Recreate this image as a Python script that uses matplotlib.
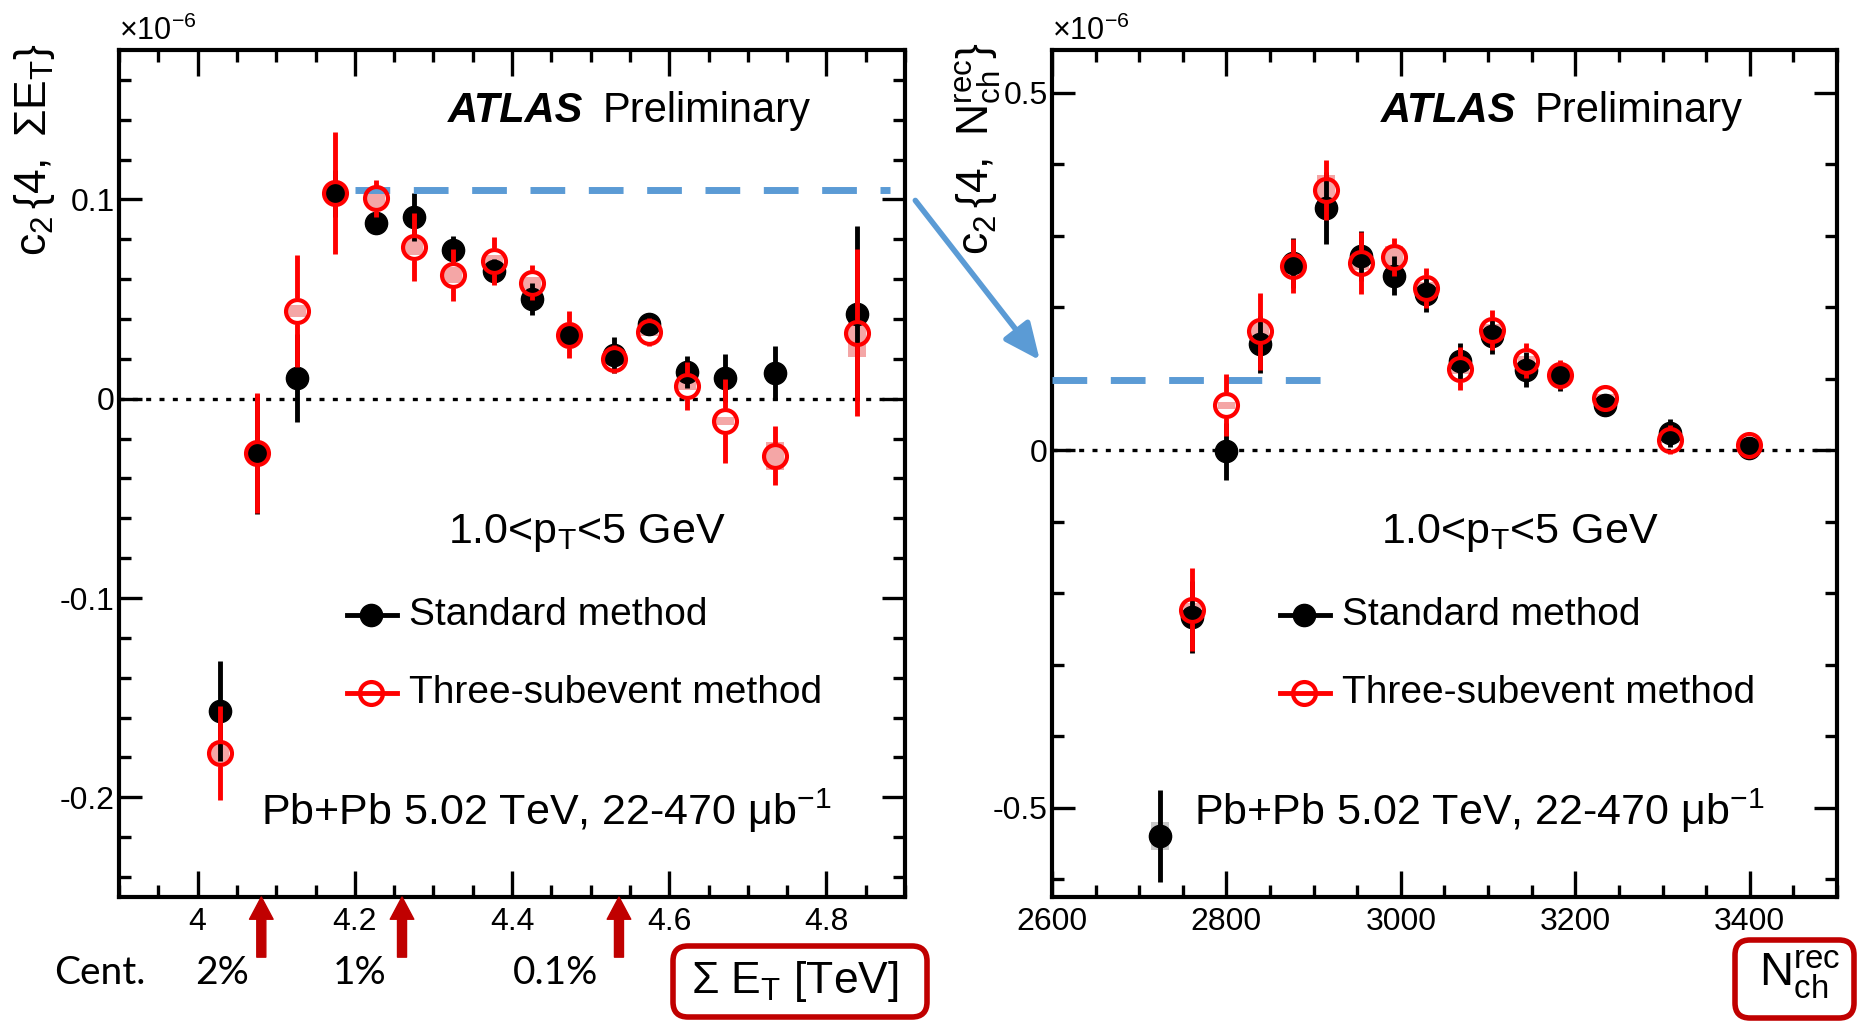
import numpy as np
import matplotlib
matplotlib.use('Agg')
import matplotlib.pyplot as plt
from matplotlib.patches import FancyBboxPatch, ConnectionPatch, Rectangle
from matplotlib.ticker import MultipleLocator, FuncFormatter

plt.rcParams['font.family'] = 'Liberation Sans'
plt.rcParams['mathtext.fontset'] = 'custom'
plt.rcParams['mathtext.rm'] = 'Liberation Sans'
plt.rcParams['mathtext.it'] = 'Liberation Sans:italic'
plt.rcParams['mathtext.bf'] = 'Liberation Sans:bold'
plt.rcParams['axes.unicode_minus'] = False

# ---- left panel: c2{4} vs sum ET (TeV), values in units of 1e-6
et_x = np.array([4.029, 4.0755, 4.126, 4.175, 4.2264, 4.2755, 4.3245, 4.3766,
                 4.425, 4.473, 4.53, 4.5736, 4.622, 4.671, 4.735, 4.839])
et_std = np.array([-0.1566, -0.0276, 0.0104, 0.103, 0.0883, 0.091, 0.0745, 0.0641,
                   0.0499, 0.0318, 0.0218, 0.0377, 0.0134, 0.0106, 0.0131, 0.0427])
et_std_err = np.array([0.025, 0.03, 0.022, 0.012, 0.005, 0.012, 0.007, 0.006,
                       0.008, 0.006, 0.009, 0.005, 0.008, 0.012, 0.0135, 0.044])
et_std_sys = np.array([0.003, 0.002, 0.002, 0.002, 0.002, 0.002, 0.002, 0.002,
                       0.002, 0.002, 0.002, 0.002, 0.002, 0.002, 0.002, 0.004])
et_sub = np.array([-0.1778, -0.0271, 0.0439, 0.1034, 0.1005, 0.0762, 0.062, 0.069,
                   0.0583, 0.0322, 0.0201, 0.0335, 0.0064, -0.0112, -0.0285, 0.0332])
et_sub_err = np.array([0.0235, 0.03, 0.028, 0.0306, 0.0095, 0.017, 0.013, 0.012,
                       0.009, 0.012, 0.007, 0.007, 0.012, 0.021, 0.015, 0.042])
et_sub_sys = np.array([0.005, 0.003, 0.003, 0.003, 0.005, 0.004, 0.004, 0.003,
                       0.003, 0.002, 0.002, 0.002, 0.002, 0.002, 0.007, 0.012])
cent_edges = [4.081, 4.26, 4.536]
cent_labels = ['2%', '1%', '0.1%']
et_ref_level = 0.1047
et_ref_range = (4.2, 4.881)

# ---- right panel: c2{4} vs Nch rec
nch_x = np.array([2724, 2761, 2800, 2838.6, 2876.6, 2914, 2954, 2992,
                  3029, 3068, 3105, 3144, 3182, 3234, 3308.5, 3398.7])
nch_std = np.array([-0.5396, -0.233, -0.0014, 0.148, 0.262, 0.339, 0.2715, 0.2444,
                    0.2187, 0.1245, 0.1595, 0.1129, 0.1035, 0.0639, 0.0243, 0.0033])
nch_std_err = np.array([0.064, 0.05, 0.04, 0.04, 0.035, 0.05, 0.035, 0.027,
                        0.025, 0.026, 0.025, 0.025, 0.02, 0.015, 0.02, 0.015])
nch_std_sys = np.array([0.02, 0.01, 0.005, 0.005, 0.005, 0.005, 0.005, 0.005,
                        0.005, 0.005, 0.005, 0.005, 0.005, 0.005, 0.005, 0.005])
nch_sub_x = nch_x[1:]
nch_sub = np.array([-0.2232, 0.063, 0.1665, 0.2575, 0.3647, 0.262, 0.2705, 0.227,
                    0.114, 0.1688, 0.1254, 0.1059, 0.0732, 0.0149, 0.0079])
nch_sub_err = np.array([0.058, 0.043, 0.054, 0.038, 0.042, 0.043, 0.027, 0.028,
                        0.03, 0.028, 0.025, 0.02, 0.015, 0.02, 0.015])
nch_sub_sys = np.array([0.01, 0.005, 0.012, 0.008, 0.02, 0.01, 0.015, 0.008,
                        0.008, 0.008, 0.006, 0.005, 0.005, 0.005, 0.005])
nch_ref_level = 0.0989
nch_ref_range = (2600, 2929)

BLUE = '#5B9BD5'
DARKRED = '#C00000'
W, H = 1857, 1022


def fx(px):
    return px / W


def fy(py):
    return 1 - py / H


def style_axes(ax, xlim, ylim, xmaj, xmin, ymaj, ymin):
    ax.set_xlim(*xlim)
    ax.set_ylim(*ylim)
    ax.xaxis.set_major_locator(MultipleLocator(xmaj))
    ax.xaxis.set_minor_locator(MultipleLocator(xmin))
    ax.yaxis.set_major_locator(MultipleLocator(ymaj))
    ax.yaxis.set_minor_locator(MultipleLocator(ymin))
    fmt = FuncFormatter(lambda v, p: f'{round(v, 3) + 0.0:g}')
    ax.xaxis.set_major_formatter(fmt)
    ax.yaxis.set_major_formatter(fmt)
    ax.tick_params(which='both', direction='in', top=True, right=True,
                   width=2.4, labelsize=23)
    ax.tick_params(axis='x', which='major', length=18.5, pad=7)
    ax.tick_params(axis='y', which='major', length=16.5, pad=3)
    ax.tick_params(which='minor', length=8.6)
    for s in ax.spines.values():
        s.set_linewidth(3)
    ax.axhline(0, color='black', lw=2.4, ls=(0, (1.5, 2.5)), zorder=1)


def draw_series(ax, x, y, err, sys, half_w, gap, open_marker):
    box_col = '#F4A6A6' if open_marker else '#C8C8C8'
    for xi, yi, si in zip(x, y, sys):
        ax.add_patch(Rectangle((xi - half_w, yi - si), 2 * half_w, 2 * si,
                               color=box_col, lw=0, zorder=2))
    col = 'red' if open_marker else 'black'
    z = 5 if open_marker else 3
    up = err > gap
    ax.vlines(x[up], (y + gap)[up], (y + err)[up], colors=col, lw=3.5, zorder=z)
    ax.vlines(x[up], (y - err)[up], (y - gap)[up], colors=col, lw=3.5, zorder=z)
    if open_marker:
        ax.plot(x, y, 'o', ms=16.5, mfc='none', mec='red', mew=3, zorder=z + 1)
    else:
        ax.plot(x, y, 'o', ms=16, color='black', zorder=z + 1)


def panel_text(ax, ylabel, ylab_x):
    ax.text(0.4186, 0.915, 'ATLAS', transform=ax.transAxes, fontsize=30,
            fontweight='bold', fontstyle='italic', va='baseline')
    ax.text(0.615, 0.915, 'Preliminary', transform=ax.transAxes, fontsize=30,
            va='baseline')
    ax.text(0.4186, 0.4184, r'1.0<p$_{\mathregular{T}}$<5 GeV', transform=ax.transAxes,
            fontsize=31, va='baseline')
    ax.text(0.1807, 0.0855, r'Pb+Pb 5.02 TeV, 22-470 μb$^{\mathregular{-1}}$',
            transform=ax.transAxes, fontsize=31, va='baseline')
    # legend
    ax.plot([0.290, 0.3537], [0.3332, 0.3332], transform=ax.transAxes, color='black',
            lw=3.5, clip_on=False)
    ax.plot([0.3206], [0.3332], 'o', ms=16, color='black', transform=ax.transAxes)
    ax.text(0.369, 0.3332, 'Standard method', transform=ax.transAxes, fontsize=28,
            va='center')
    ax.plot([0.290, 0.3537], [0.2409, 0.2409], transform=ax.transAxes, color='red',
            lw=3.5, clip_on=False)
    ax.plot([0.3206], [0.2409], 'o', ms=16.5, mfc='none', mec='red', mew=3,
            transform=ax.transAxes)
    ax.text(0.369, 0.2409, 'Three-subevent method', transform=ax.transAxes,
            fontsize=28, va='center')
    ax.text(0.0, 1.004, r'$\mathregular{\times10^{-6}}$', transform=ax.transAxes,
            fontsize=22, va='bottom', ha='left')
    ax.text(ylab_x, 1.008, ylabel, transform=ax.transAxes, fontsize=32,
            rotation=90, ha='center', va='top')


fig = plt.figure(figsize=(W / 100, H / 100), dpi=100)
ax1 = fig.add_axes([0.0641, 0.1223, 0.4233, 0.8288])
ax2 = fig.add_axes([0.5665, 0.1223, 0.4227, 0.8288])

style_axes(ax1, (3.9, 4.9), (-0.25, 0.175), 0.2, 0.05, 0.1, 0.02)
style_axes(ax2, (2600, 3500), (-0.625, 0.56), 200, 50, 0.5, 0.1)

draw_series(ax1, et_x, et_std, et_std_err, et_std_sys, 0.0115, 0.0, False)
draw_series(ax1, et_x, et_sub, et_sub_err, et_sub_sys, 0.0115, 0.0065, True)
draw_series(ax2, nch_x, nch_std, nch_std_err, nch_std_sys, 10, 0.0, False)
draw_series(ax2, nch_sub_x, nch_sub, nch_sub_err, nch_sub_sys, 10, 0.018, True)

panel_text(ax1, r'$\mathregular{c_{2}\,\{4,\ \Sigma E_{T}\}}$', -0.108)
panel_text(ax2, r'$\mathregular{c_{2}\,\{4,\ N^{rec}_{ch}\}}$', -0.094)

# blue reference lines and connecting arrow
ax1.plot(et_ref_range, [et_ref_level] * 2, color=BLUE, lw=5, dashes=(5, 3.4), zorder=4)
ax2.plot(nch_ref_range, [nch_ref_level] * 2, color=BLUE, lw=5, dashes=(5, 3.4), zorder=4)
con = ConnectionPatch(xyA=(4.913, 0.0995), coordsA='data', axesA=ax1,
                      xyB=(2586, 0.126), coordsB='data', axesB=ax2,
                      arrowstyle='-|>,head_length=1.0,head_width=0.45',
                      mutation_scale=22, color=BLUE, lw=4, shrinkA=0, shrinkB=0)
con.set_annotation_clip(False)
fig.add_artist(con)

# centrality arrows below left axis
for xc in cent_edges:
    ax1.annotate('', xy=(xc, 0), xycoords=ax1.get_xaxis_transform(),
                 xytext=(xc, -0.071), textcoords=ax1.get_xaxis_transform(),
                 arrowprops=dict(arrowstyle='simple,head_length=1.6,head_width=1.7,tail_width=0.65',
                                 mutation_scale=10, color=DARKRED, shrinkA=0, shrinkB=0),
                 annotation_clip=False)
fig.text(fx(100), fy(973), 'Cent.', fontsize=28, family='Lato', ha='center', va='center')
for lab, px in zip(cent_labels, [222, 360, 556]):
    fig.text(fx(px), fy(973), lab, fontsize=28, family='Lato', ha='center', va='center')

# x-axis titles in rounded red boxes
fig.add_artist(FancyBboxPatch((6.73, 0.05), 2.54, 0.71,
                              boxstyle='round,pad=0,rounding_size=0.15',
                              transform=fig.dpi_scale_trans, fill=False,
                              ec=DARKRED, lw=4))
fig.text(fx(795), fy(981), r'$\mathregular{\Sigma\ E_T}$ [TeV]', fontsize=32,
         ha='center', va='center')
fig.add_artist(FancyBboxPatch((17.35, 0.04), 1.19, 0.78,
                              boxstyle='round,pad=0,rounding_size=0.15',
                              transform=fig.dpi_scale_trans, fill=False,
                              ec=DARKRED, lw=4))
fig.text(fx(1800), fy(975), r'$\mathregular{N^{rec}_{ch}}$', fontsize=34,
         ha='center', va='center')

fig.savefig('out.png', dpi=100)
